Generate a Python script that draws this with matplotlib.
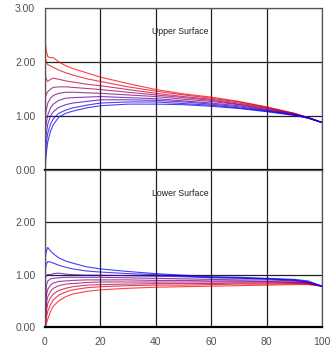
import matplotlib
matplotlib.use("Agg")
import matplotlib.pyplot as plt
import numpy as np

x = [0, 0.25, 0.5, 1, 2, 3, 5, 7.5, 10, 15, 20, 30, 40, 50, 60, 70, 80, 90, 95, 100]

upper = [
    [2.42, 2.30, 2.20, 2.10, 2.08, 2.08, 2.00, 1.93, 1.88, 1.80, 1.72, 1.60, 1.49, 1.41, 1.35, 1.27, 1.17, 1.05, 0.97, 0.88],
    [2.10, 2.05, 2.00, 1.95, 1.93, 1.90, 1.85, 1.80, 1.76, 1.69, 1.64, 1.54, 1.46, 1.39, 1.33, 1.26, 1.16, 1.05, 0.97, 0.88],
    [1.75, 1.72, 1.68, 1.64, 1.68, 1.70, 1.68, 1.65, 1.63, 1.59, 1.56, 1.49, 1.42, 1.36, 1.31, 1.24, 1.15, 1.04, 0.97, 0.88],
    [1.35, 1.37, 1.40, 1.45, 1.50, 1.53, 1.54, 1.54, 1.53, 1.51, 1.49, 1.44, 1.39, 1.34, 1.29, 1.22, 1.14, 1.04, 0.97, 0.88],
    [1.00, 1.05, 1.12, 1.24, 1.33, 1.38, 1.42, 1.44, 1.44, 1.43, 1.42, 1.39, 1.36, 1.31, 1.27, 1.21, 1.12, 1.03, 0.97, 0.88],
    [0.70, 0.80, 0.88, 1.02, 1.15, 1.22, 1.29, 1.33, 1.34, 1.35, 1.36, 1.34, 1.32, 1.28, 1.24, 1.19, 1.11, 1.03, 0.97, 0.88],
    [0.45, 0.58, 0.68, 0.85, 1.00, 1.08, 1.16, 1.21, 1.24, 1.27, 1.30, 1.30, 1.29, 1.26, 1.22, 1.17, 1.10, 1.02, 0.96, 0.88],
    [0.20, 0.38, 0.50, 0.68, 0.85, 0.95, 1.05, 1.11, 1.15, 1.20, 1.24, 1.26, 1.26, 1.23, 1.20, 1.15, 1.09, 1.02, 0.96, 0.88],
    [0.00, 0.18, 0.32, 0.52, 0.72, 0.84, 0.98, 1.05, 1.09, 1.15, 1.19, 1.22, 1.22, 1.21, 1.18, 1.14, 1.08, 1.01, 0.96, 0.88],
]

lower = [
    [1.45, 0.02, 0.06, 0.15, 0.30, 0.40, 0.50, 0.58, 0.63, 0.68, 0.71, 0.74, 0.76, 0.77, 0.78, 0.79, 0.80, 0.81, 0.81, 0.78],
    [1.40, 0.08, 0.18, 0.30, 0.43, 0.52, 0.61, 0.67, 0.71, 0.75, 0.77, 0.79, 0.80, 0.80, 0.81, 0.82, 0.82, 0.83, 0.82, 0.78],
    [1.35, 0.15, 0.30, 0.45, 0.56, 0.63, 0.70, 0.74, 0.77, 0.80, 0.81, 0.82, 0.83, 0.83, 0.83, 0.84, 0.84, 0.84, 0.83, 0.78],
    [1.28, 0.25, 0.45, 0.58, 0.68, 0.74, 0.79, 0.82, 0.83, 0.85, 0.86, 0.86, 0.86, 0.86, 0.86, 0.86, 0.86, 0.85, 0.84, 0.78],
    [1.20, 0.40, 0.60, 0.72, 0.80, 0.84, 0.87, 0.88, 0.89, 0.90, 0.90, 0.90, 0.89, 0.89, 0.88, 0.88, 0.87, 0.86, 0.84, 0.78],
    [1.10, 0.60, 0.80, 0.88, 0.92, 0.93, 0.94, 0.95, 0.95, 0.95, 0.95, 0.94, 0.93, 0.92, 0.91, 0.90, 0.90, 0.88, 0.85, 0.78],
    [0.90, 0.95, 0.98, 1.00, 1.00, 1.02, 1.03, 1.01, 1.00, 0.99, 0.99, 0.98, 0.97, 0.96, 0.94, 0.93, 0.92, 0.89, 0.86, 0.78],
    [1.05, 1.15, 1.20, 1.25, 1.24, 1.22, 1.18, 1.14, 1.11, 1.07, 1.05, 1.02, 1.00, 0.97, 0.95, 0.94, 0.92, 0.90, 0.86, 0.78],
    [1.20, 1.38, 1.45, 1.52, 1.45, 1.40, 1.32, 1.26, 1.22, 1.15, 1.11, 1.06, 1.02, 0.99, 0.96, 0.95, 0.93, 0.91, 0.88, 0.78],
]

x_ticks = [0, 20, 40, 60, 80, 100]
x_tick_labels = ["0", "20", "40", "60", "80", "100"]
upper_y_ticks = [0, 1, 2, 3]
lower_y_ticks = [0, 1, 2]
titles = ["Upper Surface", "Lower Surface"]

plt.rcParams['font.family'] = ['Liberation Sans', 'DejaVu Sans']

fig = plt.figure(figsize=(3.30, 3.47), dpi=100)
W, H = 330.0, 347.0
ax_top = fig.add_axes([45 / W, 1 - 170 / H, 277 / W, 162 / H])
ax_bot = fig.add_axes([45 / W, 1 - 327 / H, 277 / W, 157 / H])

n = len(upper)
colors = []
for i in range(n):
    t = i / (n - 1)
    colors.append(((1 - t) * 1.0, 0.0, t * 1.0))

def style(ax, yticks, title):
    ax.set_xlim(0, 100)
    ax.set_ylim(0, 3)
    ax.set_xticks(x_ticks)
    ax.set_yticks(yticks)
    ax.set_yticklabels([f"{v:.2f}" for v in yticks])
    ax.tick_params(length=0, labelsize=7.5, labelcolor='#505050', pad=7)
    ax.grid(True, color='#222222', linewidth=0.9)
    ax.set_axisbelow(True)
    for s in ax.spines.values():
        s.set_color('#555555')
        s.set_linewidth(0.9)
    ax.spines['bottom'].set_color('black')
    ax.spines['bottom'].set_linewidth(1.6)
    ax.text(38.5, 2.56, title, fontsize=6.3, color='#222222', va='center', ha='left')

for i in range(n):
    ax_top.plot(x, upper[i], color=colors[i], linewidth=0.8, alpha=0.75)
    ax_bot.plot(x, lower[i], color=colors[i], linewidth=0.8, alpha=0.75)

style(ax_top, upper_y_ticks, titles[0])
style(ax_bot, lower_y_ticks, titles[1])
ax_top.set_xticklabels([])
ax_bot.set_xticklabels(x_tick_labels)
ax_bot.tick_params(axis='x', pad=7)

fig.savefig("out.png", dpi=100)
